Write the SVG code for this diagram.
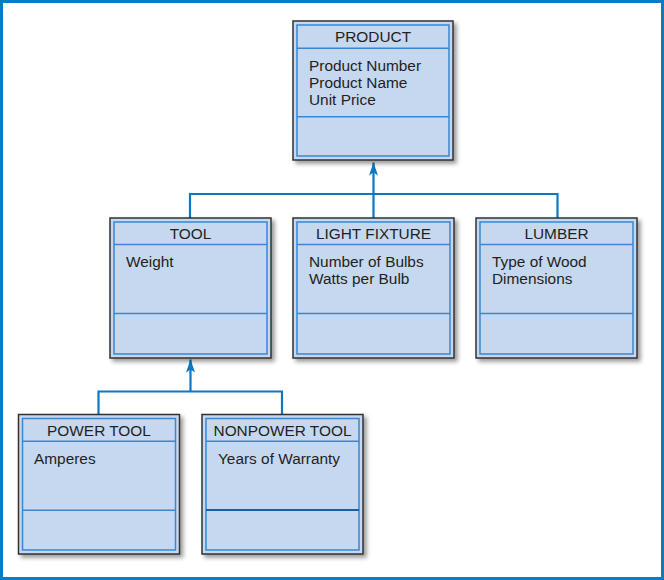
<svg xmlns="http://www.w3.org/2000/svg" width="664" height="580" viewBox="0 0 664 580">
<defs>
<filter id="sh" x="-10%" y="-10%" width="130%" height="130%">
<feDropShadow dx="3" dy="3" stdDeviation="2" flood-color="#000" flood-opacity="0.4"/>
</filter>
<marker id="arr" viewBox="0 0 13 9" refX="13" refY="4.5" markerWidth="13" markerHeight="9" markerUnits="userSpaceOnUse" orient="auto">
<path d="M0,0 L13,4.5 L0,9 L3,4.5 z" fill="#0b78c4"/>
</marker>
<style>
.outer{fill:#c6d8ef;stroke:#333;stroke-width:1.5;filter:url(#sh)}
.inner{fill:none;stroke:#3a86cf;stroke-width:1.5}
.div{stroke:#3a86cf;stroke-width:1.5}
.hd{font-family:"Liberation Sans",Arial,sans-serif;font-size:15.4px;fill:#231f20;text-anchor:middle}
.at{font-family:"Liberation Sans",Arial,sans-serif;font-size:15.4px;fill:#231f20}
.con{fill:none;stroke:#0b78c4;stroke-width:2.2}
</style>
</defs>
<rect x="1.5" y="1.5" width="661" height="577" fill="#fff" stroke="#0a7cc3" stroke-width="3"/>
<g id="connectors">
<path class="con" d="M190,218 V194 H557.5 V218"/>
<path class="con" d="M373.5,218 V162.5" marker-end="url(#arr)"/>
<path class="con" d="M98.5,414 V391.5 H282 V414"/>
<path class="con" d="M190.5,391.5 V359.5" marker-end="url(#arr)"/>
</g>
<g id="product">
<rect class="outer" x="293" y="21" width="160" height="139"/>
<rect class="inner" x="297" y="25" width="152" height="131"/>
<line class="div" x1="297" y1="48.3" x2="449" y2="48.3"/>
<line class="div" x1="297" y1="116.7" x2="449" y2="116.7"/>
<text class="hd" x="373" y="42">PRODUCT</text>
<text class="at" x="309" y="71">Product Number</text>
<text class="at" x="309" y="88">Product Name</text>
<text class="at" x="309" y="105">Unit Price</text>
</g>
<g id="tool">
<rect class="outer" x="110" y="218" width="161" height="140"/>
<rect class="inner" x="114" y="222" width="153" height="132"/>
<line class="div" x1="114" y1="244.5" x2="267" y2="244.5"/>
<line class="div" x1="114" y1="313.5" x2="267" y2="313.5"/>
<text class="hd" x="190.5" y="239">TOOL</text>
<text class="at" x="126" y="267">Weight</text>
</g>
<g id="light-fixture">
<rect class="outer" x="293" y="218" width="161" height="140"/>
<rect class="inner" x="297" y="222" width="153" height="132"/>
<line class="div" x1="297" y1="244.5" x2="450" y2="244.5"/>
<line class="div" x1="297" y1="313.5" x2="450" y2="313.5"/>
<text class="hd" x="373.5" y="239">LIGHT FIXTURE</text>
<text class="at" x="309" y="267">Number of Bulbs</text>
<text class="at" x="309" y="284">Watts per Bulb</text>
</g>
<g id="lumber">
<rect class="outer" x="476" y="218" width="161" height="140"/>
<rect class="inner" x="480" y="222" width="153" height="132"/>
<line class="div" x1="480" y1="244.5" x2="633" y2="244.5"/>
<line class="div" x1="480" y1="313.5" x2="633" y2="313.5"/>
<text class="hd" x="556.5" y="239">LUMBER</text>
<text class="at" x="492" y="267">Type of Wood</text>
<text class="at" x="492" y="284">Dimensions</text>
</g>
<g id="power-tool">
<rect class="outer" x="18.5" y="414.5" width="161" height="139.5"/>
<rect class="inner" x="22.5" y="418.5" width="153" height="131.5"/>
<line class="div" x1="22.5" y1="441.3" x2="175.5" y2="441.3"/>
<line class="div" x1="22.5" y1="510.3" x2="175.5" y2="510.3"/>
<text class="hd" x="99" y="435.5">POWER TOOL</text>
<text class="at" x="34" y="464">Amperes</text>
</g>
<g id="nonpower-tool">
<rect class="outer" x="202" y="414.5" width="161" height="139.5"/>
<rect class="inner" x="206" y="418.5" width="153" height="131.5"/>
<line class="div" x1="206" y1="441.3" x2="359" y2="441.3"/>
<line x1="206" y1="510" x2="359" y2="510" stroke="#1a5fa0" stroke-width="2"/>
<text class="hd" x="282.5" y="435.5">NONPOWER TOOL</text>
<text class="at" x="218" y="464">Years of Warranty</text>
</g>
</svg>
